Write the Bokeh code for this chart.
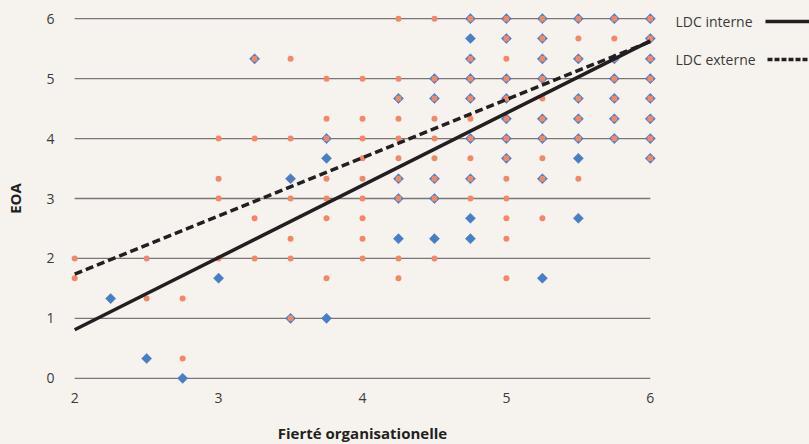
from bokeh.plotting import figure
from bokeh.models import Range1d
from bokeh.layouts import row
from bokeh.core.properties import value
from bokeh.embed import file_html
from bokeh.resources import INLINE

# ---------------- data ----------------
x_ticks = [2, 3, 4, 5, 6]
y_ticks = [0, 1, 2, 3, 4, 5, 6]

# LDC interne (blue diamonds)
interne_x = [2.25, 2.5, 2.75, 3.0, 3.25,
             3.5, 3.5,
             3.75, 3.75, 3.75,
             4.25, 4.25, 4.25, 4.25,
             4.5, 4.5, 4.5, 4.5, 4.5,
             4.75, 4.75, 4.75, 4.75, 4.75, 4.75, 4.75, 4.75, 4.75,
             5.0, 5.0, 5.0, 5.0, 5.0, 5.0, 5.0,
             5.25, 5.25, 5.25, 5.25, 5.25, 5.25, 5.25, 5.25,
             5.5, 5.5, 5.5, 5.5, 5.5, 5.5, 5.5,
             5.75, 5.75, 5.75, 5.75, 5.75, 5.75,
             6.0, 6.0, 6.0, 6.0, 6.0, 6.0, 6.0, 6.0]
interne_y = [1.33, 0.33, 0.0, 1.67, 5.33,
             3.33, 1.0,
             4.0, 3.67, 1.0,
             4.67, 3.33, 3.0, 2.33,
             5.0, 4.67, 3.33, 3.0, 2.33,
             6.0, 5.67, 5.33, 5.0, 4.67, 4.0, 3.33, 2.67, 2.33,
             6.0, 5.67, 5.0, 4.67, 4.33, 4.0, 3.67,
             6.0, 5.67, 5.33, 5.0, 4.33, 4.0, 3.33, 1.67,
             6.0, 5.33, 4.67, 4.33, 4.0, 3.67, 2.67,
             6.0, 5.33, 5.0, 4.67, 4.33, 4.0,
             6.0, 5.67, 5.33, 5.0, 4.67, 4.33, 4.0, 3.67]

# LDC externe (orange dots)
externe_x = [2.0, 2.0,
             2.5, 2.5,
             2.75, 2.75,
             3.0, 3.0, 3.0, 3.0,
             3.25, 3.25, 3.25, 3.25,
             3.5, 3.5, 3.5, 3.5, 3.5, 3.5,
             3.75, 3.75, 3.75, 3.75, 3.75, 3.75, 3.75,
             4.0, 4.0, 4.0, 4.0, 4.0, 4.0, 4.0, 4.0, 4.0,
             4.25, 4.25, 4.25, 4.25, 4.25, 4.25, 4.25, 4.25, 4.25, 4.25,
             4.5, 4.5, 4.5, 4.5, 4.5, 4.5, 4.5, 4.5, 4.5,
             4.75, 4.75, 4.75, 4.75, 4.75, 4.75, 4.75, 4.75, 4.75,
             5.0, 5.0, 5.0, 5.0, 5.0, 5.0, 5.0, 5.0, 5.0, 5.0, 5.0, 5.0, 5.0,
             5.25, 5.25, 5.25, 5.25, 5.25, 5.25, 5.25, 5.25, 5.25, 5.25,
             5.5, 5.5, 5.5, 5.5, 5.5, 5.5, 5.5,
             5.75, 5.75, 5.75, 5.75, 5.75, 5.75, 5.75,
             6.0, 6.0, 6.0, 6.0, 6.0, 6.0, 6.0, 6.0]
externe_y = [2.0, 1.67,
             2.0, 1.33,
             1.33, 0.33,
             4.0, 3.33, 3.0, 2.0,
             5.33, 4.0, 2.67, 2.0,
             5.33, 4.0, 3.0, 2.33, 2.0, 1.0,
             5.0, 4.33, 4.0, 3.33, 3.0, 2.67, 1.67,
             5.0, 4.33, 4.0, 3.67, 3.33, 3.0, 2.67, 2.33, 2.0,
             6.0, 5.0, 4.67, 4.33, 4.0, 3.67, 3.33, 3.0, 2.0, 1.67,
             6.0, 5.0, 4.67, 4.33, 4.0, 3.67, 3.33, 3.0, 2.0,
             6.0, 5.33, 5.0, 4.67, 4.33, 4.0, 3.67, 3.33, 3.0,
             6.0, 5.67, 5.33, 5.0, 4.67, 4.33, 4.0, 3.67, 3.33, 3.0, 2.67, 2.33, 1.67,
             6.0, 5.67, 5.33, 5.0, 4.67, 4.33, 4.0, 3.67, 3.33, 2.67,
             6.0, 5.67, 5.33, 4.67, 4.33, 4.0, 3.33,
             6.0, 5.67, 5.33, 5.0, 4.67, 4.33, 4.0,
             6.0, 5.67, 5.33, 5.0, 4.67, 4.33, 4.0, 3.67]

# regression lines
line_x = [2, 6]
interne_line_y = [0.81, 5.63]
externe_line_y = [1.74, 5.62]

series_labels = ["LDC interne", "LDC externe"]
x_label = "Fierté organisationelle"
y_label = "EOA"

# ---------------- style ----------------
BG = "#F6F3EE"
BLUE = "#4A7EC4"
ORANGE = "#F4876A"
DARK = "#231F20"
GRID = "#777777"
TXT = "#3a3a3a"
FONT = "Open Sans"

p = figure(width=667, height=444,
           frame_width=590, frame_height=374,
           x_range=Range1d(1.95, 6.05), y_range=Range1d(-0.12, 6.12),
           output_backend="svg", toolbar_location=None,
           min_border_left=67, min_border_right=10,
           min_border_top=11, min_border_bottom=59,
           background_fill_color=BG, border_fill_color=BG,
           outline_line_color=None)

p.xgrid.visible = False
p.ygrid.visible = False

# horizontal grid lines spanning the x data extent
p.segment(x0=x_ticks[0], x1=x_ticks[-1], y0=y_ticks, y1=y_ticks,
          line_color=GRID, line_width=1.3)

# points
p.scatter(interne_x, interne_y, marker="square", angle=0.785398,
          size=7.2, fill_color=BLUE, line_color=BLUE, line_width=0.5)
p.scatter(externe_x, externe_y, marker="circle",
          size=6, fill_color=ORANGE, line_color=None)

# regression lines
p.line(line_x, interne_line_y, line_color=DARK, line_width=3.5)
p.line(line_x, externe_line_y, line_color=DARK, line_width=3.5,
       line_dash="8 4")

for ax in (p.xaxis, p.yaxis):
    ax.axis_line_color = None
    ax.major_tick_line_color = None
    ax.minor_tick_line_color = None
    ax.major_tick_out = 0
    ax.major_tick_in = 0
    ax.major_label_text_font = FONT
    ax.major_label_text_font_size = "14px"
    ax.major_label_text_color = TXT
    ax.axis_label_text_font = FONT
    ax.axis_label_text_font_size = "15px"
    ax.axis_label_text_font_style = "bold"
    ax.axis_label_text_color = "#231F20"

p.xaxis.ticker = x_ticks
p.yaxis.ticker = y_ticks
p.xaxis.axis_label = x_label
p.yaxis.axis_label = y_label
p.xaxis.major_label_standoff = 7
p.xaxis.axis_label_standoff = 17
p.yaxis.major_label_standoff = 13
p.yaxis.axis_label_standoff = 18

# ---------------- legend panel (label then line sample) ----------------
lg = figure(width=142, height=444,
            frame_width=142, frame_height=374,
            x_range=Range1d(0, 142), y_range=Range1d(374, 0),
            output_backend="svg", toolbar_location=None,
            min_border_left=0, min_border_right=0,
            min_border_top=11, min_border_bottom=59,
            background_fill_color=BG, border_fill_color=BG,
            outline_line_color=None)
lg.axis.visible = False
lg.grid.visible = False
lg.text(x=[8, 8], y=[10, 48], text=series_labels,
        text_font=value(FONT), text_font_size="14px",
        text_color=TXT, text_baseline="middle")
lg.line([98, 142], [10, 10], line_color=DARK, line_width=3.5)
lg.line([100, 142], [48, 48], line_color=DARK, line_width=3.5, line_dash="5 2")

layout = row(p, lg)
layout.styles = {"background-color": BG}

open("out.html", "w").write(file_html(layout, INLINE))
